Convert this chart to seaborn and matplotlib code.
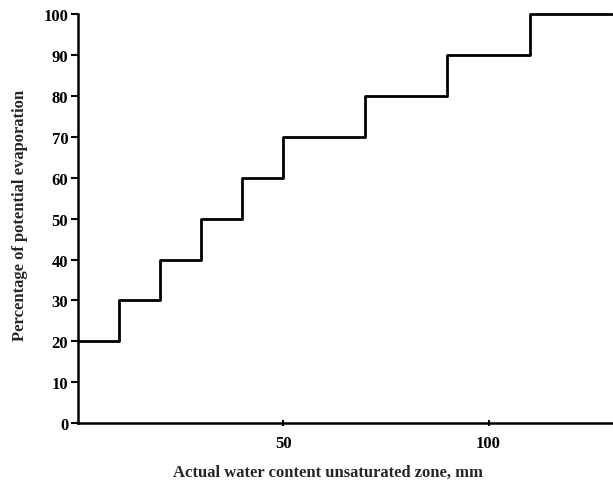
import matplotlib
matplotlib.use("Agg")
from matplotlib import pyplot as plt
import seaborn as sns
import pandas as pd

# step edges (mm) and the evaporation percentage from each edge onwards
water_mm = [0, 10, 20, 30, 40, 50, 70, 90, 110, 130]
evap_pct = [20, 30, 40, 50, 60, 70, 80, 90, 100, 100]
x_ticks = [50, 100]
y_ticks = [0, 10, 20, 30, 40, 50, 60, 70, 80, 90, 100]

sns.set_style("ticks")
plt.rcParams['font.family'] = ['Liberation Serif', 'DejaVu Serif']

df = pd.DataFrame({"water": water_mm, "evap": evap_pct})

fig = plt.figure(figsize=(6.13, 4.81), dpi=100)
ax = fig.add_axes([0.127, 0.118, 0.871, 0.851])
sns.lineplot(data=df, x="water", y="evap", drawstyle="steps-post",
             color="black", linewidth=2.0, ax=ax, clip_on=False)

ax.set_xlim(0, 130)
ax.set_ylim(0, 100)
ax.set_xticks(x_ticks)
ax.set_yticks(y_ticks)
ax.tick_params(axis="y", direction="out", length=5, width=1.5,
               labelsize=12, colors="black", pad=2)
ax.tick_params(axis="x", direction="inout", length=5, width=1.5,
               labelsize=12, colors="black", pad=6)
for lab in ax.get_xticklabels() + ax.get_yticklabels():
    lab.set_fontweight("bold")
sns.despine(ax=ax)
for side in ("left", "bottom"):
    ax.spines[side].set_linewidth(1.8)
    ax.spines[side].set_color("black")

ax.set_xlabel("Actual water content unsaturated zone, mm",
              fontsize=12, fontweight="bold")
ax.xaxis.set_label_coords(0.468, -0.100)
ax.set_ylabel("Percentage of potential evaporation",
              fontsize=12, fontweight="bold")
ax.yaxis.set_label_coords(-0.094, 0.51)

fig.savefig("out.png", dpi=100)
